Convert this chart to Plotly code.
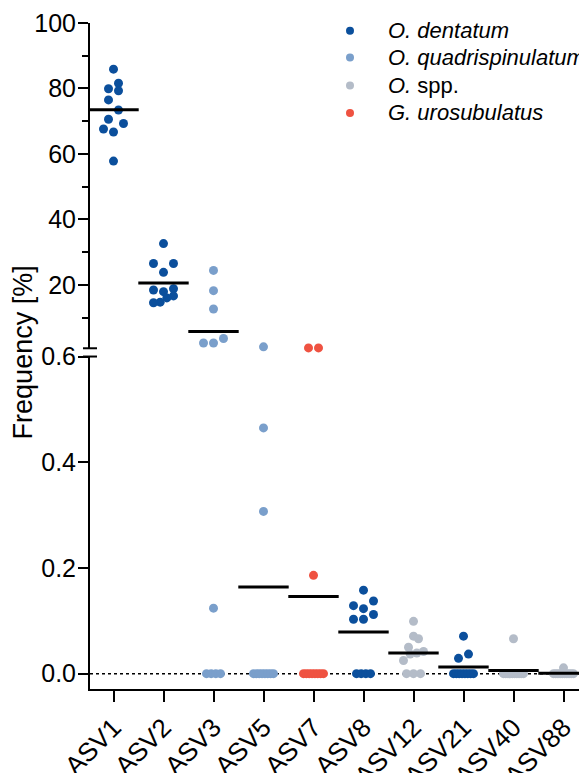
import numpy as np
import plotly.graph_objects as go

# ---------------- data ----------------
categories = ["ASV1", "ASV2", "ASV3", "ASV5", "ASV7", "ASV8", "ASV12", "ASV21", "ASV40", "ASV88"]
category_species = ["O. dentatum", "O. dentatum", "O. quadrispinulatum", "O. quadrispinulatum",
                    "G. urosubulatus", "O. dentatum", "O. spp.", "O. dentatum", "O. spp.", "O. spp."]

asv1 = [85.9, 81.6, 79.9, 79.3, 76.5, 73.4, 70.6, 69.3, 67.6, 66.7, 57.8]
asv2 = [32.6, 26.5, 26.5, 23.8, 18.8, 18.4, 17.9, 16.6, 16.0, 14.7, 14.5]
asv3 = [24.4, 18.2, 12.6, 3.6, 2.2, 2.2, 0.124, 0, 0, 0, 0]
asv5 = [1.03, 0.465, 0.307, 0, 0, 0, 0, 0, 0, 0, 0]
asv7 = [0.71, 0.71, 0.186, 0, 0, 0, 0, 0, 0, 0, 0]
asv8 = [0.158, 0.1375, 0.1287, 0.123, 0.112, 0.103, 0.103, 0, 0, 0, 0]
asv12 = [0.099, 0.071, 0.066, 0.050, 0.042, 0.039, 0.037, 0.025, 0, 0, 0]
asv21 = [0.071, 0.037, 0.029, 0, 0, 0, 0, 0, 0, 0, 0]
asv40 = [0.066, 0, 0, 0, 0, 0, 0, 0, 0, 0, 0]
asv88 = [0.011, 0, 0, 0, 0, 0, 0, 0, 0, 0, 0]
values = [asv1, asv2, asv3, asv5, asv7, asv8, asv12, asv21, asv40, asv88]

species_order = ["O. dentatum", "O. quadrispinulatum", "O. spp.", "G. urosubulatus"]
species_labels = ["<i>O. dentatum</i>", "<i>O. quadrispinulatum</i>", "<i>O.</i> spp.", "<i>G. urosubulatus</i>"]
species_colors = ["#0b4f9c", "#7a9fcb", "#b4bcc8", "#ef5241"]

y_bottom_ticks = [0.0, 0.2, 0.4, 0.6]
y_top_ticks = [20, 40, 60, 80, 100]
y_top_minor = [10, 30, 50, 70, 90]

# ---------------- layout constants ----------------
# the page body has an 8px margin, so the figure is sized to fill the rest of the window
W, H = 579, 765
ML, MR, MT, MB = 82, 0, 15, 84
PW, PH = W - ML - MR, H - MT - MB
BREAK = 0.6
dom_bot = [0.0, 0.4992]
dom_top = [0.5116, 1.0]
rng_bot = [-0.029, BREAK]
rng_top = [BREAK, 100]
x_rng = [-0.47, 9.47]
px_per_cat = PW / (x_rng[1] - x_rng[0])
MSIZE = 9
FONT = "Liberation Sans, Arial, sans-serif"


def ypix(v):
    d, r = (dom_top, rng_top) if v >= BREAK else (dom_bot, rng_bot)
    frac = d[0] + (v - r[0]) / (r[1] - r[0]) * (d[1] - d[0])
    return MT + PH * (1 - frac)


def swarm_offsets(vals, h=10.0, step=10.0):
    """Group points into horizontal rows (in pixel space) and spread them symmetrically."""
    order = sorted(range(len(vals)), key=lambda i: vals[i])
    offs = [0.0] * len(vals)
    i = 0
    while i < len(order):
        v0 = vals[order[i]]
        ties = [k for k in order[i:] if vals[k] == v0]
        if len(ties) >= 3:
            grp = ties
            j = i + len(ties)
            maxw = 7.0 if len(grp) <= 5 else 10.0
        else:
            y0 = ypix(v0)
            grp = [order[i]]
            j = i + 1
            while j < len(order) and y0 - ypix(vals[order[j]]) <= h:
                grp.append(order[j])
                j += 1
            maxw = 10.0
        n = len(grp)
        if n == 1:
            pat = [0.0]
        elif n == 2:
            pat = [-step / 2, step / 2]
        elif n == 3 and maxw >= step:
            pat = [0.0, -step, step]
        else:
            pat = list(np.linspace(-maxw, maxw, n))
        for k, idx in enumerate(grp):
            offs[idx] = pat[k]
        i = j
    return offs


fig = go.Figure()

# points, one trace per species and axis segment
for si, sp in enumerate(species_order):
    for seg in ("bottom", "top"):
        xs, ys = [], []
        for ci, vals in enumerate(values):
            if category_species[ci] != sp:
                continue
            offs = swarm_offsets(vals)
            for v, o in zip(vals, offs):
                if (v >= BREAK) == (seg == "top"):
                    xs.append(ci + o / px_per_cat)
                    ys.append(v)
        if not xs:
            continue
        fig.add_trace(go.Scatter(
            x=xs, y=ys, mode="markers",
            yaxis="y2" if seg == "top" else "y",
            marker=dict(size=MSIZE, color=species_colors[si], line=dict(width=0)),
            name=species_labels[si], legendgroup=sp,
            showlegend=False, cliponaxis=False, hoverinfo="skip",
        ))

# mean lines
means = [float(np.mean(v)) for v in values]
for seg in ("bottom", "top"):
    xs = [ci for ci, m in enumerate(means) if (m >= BREAK) == (seg == "top")]
    ys = [m for m in means if (m >= BREAK) == (seg == "top")]
    fig.add_trace(go.Scatter(
        x=xs, y=ys, mode="markers", yaxis="y2" if seg == "top" else "y",
        marker=dict(symbol="line-ew", size=36, line=dict(width=3, color="black"), color="black"),
        showlegend=False, cliponaxis=False, hoverinfo="skip",
    ))

axis_common = dict(showline=True, linecolor="black", linewidth=2, ticks="outside",
                   tickcolor="black", tickwidth=2, ticklen=10, showgrid=False, zeroline=False,
                   automargin=False, ticklabelstandoff=-3,
                   tickfont=dict(size=25, color="black", family=FONT))

fig.update_layout(
    width=W, height=H, margin=dict(l=ML, r=MR, t=MT, b=MB, autoexpand=False),
    paper_bgcolor="white", plot_bgcolor="white",
    font=dict(family=FONT, color="black"),
    showlegend=False,
    xaxis=dict(range=x_rng, tickmode="array", tickvals=list(range(len(categories))),
               ticktext=categories, tickangle=-45, showline=True, linecolor="black", linewidth=2,
               ticks="outside", tickcolor="black", tickwidth=2, ticklen=11, showgrid=False,
               zeroline=False, automargin=False,
               tickfont=dict(size=26, color="black", family=FONT)),
    yaxis=dict(domain=dom_bot, range=rng_bot, tickmode="array", tickvals=y_bottom_ticks,
               ticktext=[f"{t:.1f}" for t in y_bottom_ticks], **axis_common),
    yaxis2=dict(domain=dom_top, range=rng_top, tickmode="array", tickvals=y_top_ticks,
                ticktext=[str(t) for t in y_top_ticks], anchor="x",
                minor=dict(tickmode="array", tickvals=y_top_minor, ticks="outside", ticklen=6,
                           tickwidth=2, tickcolor="black"),
                **axis_common),
)

# legend (symbol + label), placed in pixel space at the top right
leg_sym_x, leg_txt_x = 342, 378
leg_rows = [22.7, 49.5, 77.5, 105]
for si in range(len(species_order)):
    py = (MT + PH - leg_rows[si]) / PH
    fig.add_shape(type="circle", xref="paper", yref="paper",
                  xsizemode="pixel", ysizemode="pixel",
                  xanchor=(leg_sym_x - ML) / PW, yanchor=py,
                  x0=-4, x1=4, y0=-4, y1=4,
                  fillcolor=species_colors[si], line=dict(width=0))
    fig.add_annotation(text=species_labels[si], xref="paper", yref="paper",
                       x=(leg_txt_x - ML) / PW, y=py, xanchor="left", yanchor="middle",
                       showarrow=False, font=dict(size=22, color="black", family=FONT))

# dotted zero line
fig.add_shape(type="line", xref="paper", x0=0, x1=1, yref="y", y0=0, y1=0,
              line=dict(color="black", width=1.5, dash="3px,3px"), layer="below")

# axis break marks
for yb in (dom_bot[1], dom_top[0]):
    fig.add_shape(type="line", xref="paper", yref="paper", x0=-7 / PW, x1=7 / PW, y0=yb, y1=yb,
                  line=dict(color="black", width=2))

# y-axis title
fig.add_annotation(text="Frequency [%]", xref="paper", yref="paper",
                   x=(15 - ML) / PW, y=(dom_bot[1] + dom_top[0]) / 2, textangle=-90,
                   showarrow=False, xanchor="center", yanchor="middle",
                   font=dict(size=27, color="black", family=FONT))

fig.write_html("out.html")
